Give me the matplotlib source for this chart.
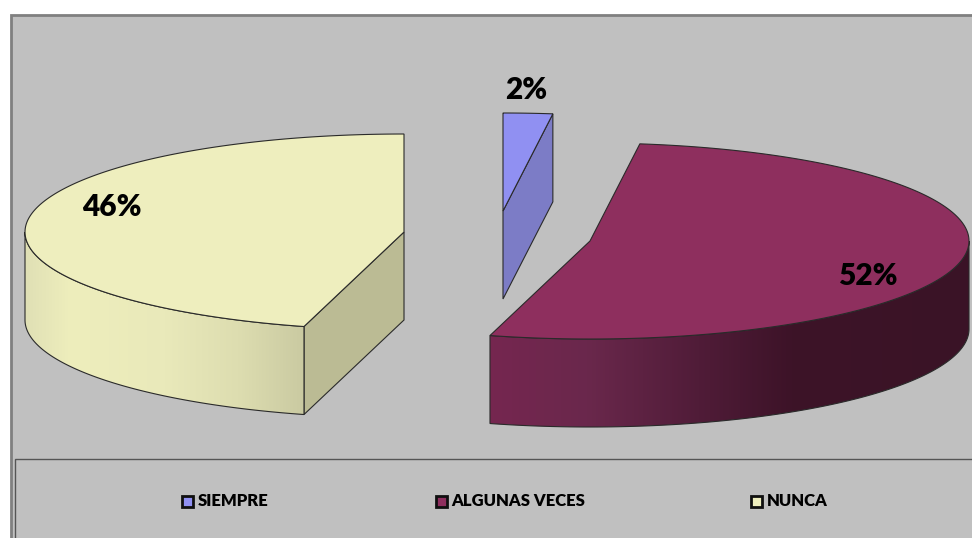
"""3D style exploded pie drawn with plain matplotlib patches."""

import matplotlib

matplotlib.use("Agg")
import matplotlib.pyplot as plt
import numpy as np
from matplotlib.colors import LinearSegmentedColormap
from matplotlib.patches import Polygon, Rectangle

plt.rcParams["font.family"] = ["Lato", "DejaVu Sans"]

categories = ["SIEMPRE", "ALGUNAS VECES", "NUNCA"]
percent_labels = ["2%", "52%", "46%"]
# unrounded shares, estimated from the slice edges
shares = [2.1, 52.15, 45.75]

# pie geometry in pixels
RX, RY = 379, 98
DEPTH = 88
CENTERS = [(503, 211), (590, 241), (404, 232)]
TOP_COLORS = ["#9090F2", "#8E2F5E", "#EEEEBE"]
FACE_COLORS = ["#7C7CC6", "#3A1426", "#BBBB94"]
# outer wall shading: (pixel x, colour)
WALL_SHADES = [
    None,
    [(491, "#762650"), (590, "#6A284C"), (700, "#501C38"), (790, "#3D1328"), (967, "#3A1426")],
    [(25, "#DEDEB4"), (75, "#EEEEBC"), (165, "#E9E9BA"), (235, "#DDDDB0"), (304, "#C8C8A0")],
]
LABEL_POS = [(526, 90), (868, 276), (112, 207)]
LEGEND_MARK_X = [187.5, 441, 756]
LEGEND_Y = 501
EDGE = "#2A2A2A"


def ellipse_points(center, a0, a1, n=200):
    # angles clockwise from 12 o'clock, y axis pointing down
    ang = np.radians(np.linspace(a0, a1, n))
    return np.column_stack([center[0] + RX * np.sin(ang), center[1] - RY * np.cos(ang)])


def draw_wall(ax, center, a0, a1, shades):
    top = ellipse_points(center, a0, a1)
    pts = np.vstack([top, (top + [0, DEPTH])[::-1]])
    patch = Polygon(pts, closed=True, facecolor="none", edgecolor=EDGE, linewidth=0.8, zorder=3)
    ax.add_patch(patch)
    x0, x1 = shades[0][0], shades[-1][0]
    stops = [((x - x0) / (x1 - x0), c) for x, c in shades]
    cmap = LinearSegmentedColormap.from_list("wall", stops)
    grad = np.linspace(0, 1, 512)[None, :]
    im = ax.imshow(grad, cmap=cmap, extent=(x0 - 6, x1 + 6, 538, 0), aspect="auto", zorder=2)
    im.set_clip_path(patch)


def draw_slice(ax, i, a0, a1):
    cx, cy = CENTERS[i]
    # straight cut faces, only the ones turned towards the viewer
    for ang, visible in ((a0, np.sin(np.radians(a0)) < -1e-9), (a1, np.sin(np.radians(a1)) > 1e-9)):
        if visible:
            px, py = ellipse_points(CENTERS[i], ang, ang, 1)[0]
            ax.add_patch(Polygon([(cx, cy), (px, py), (px, py + DEPTH), (cx, cy + DEPTH)],
                                 closed=True, facecolor=FACE_COLORS[i], edgecolor=EDGE,
                                 linewidth=0.8, zorder=2))
    lo, hi = max(a0, 90), min(a1, 270)
    if lo < hi:
        draw_wall(ax, CENTERS[i], lo, hi, WALL_SHADES[i])
    arc = ellipse_points(CENTERS[i], a0, a1)
    ax.add_patch(Polygon(np.vstack([[(cx, cy)], arc]), closed=True, facecolor=TOP_COLORS[i],
                         edgecolor=EDGE, linewidth=0.8, zorder=4))


fig = plt.figure(figsize=(9.72, 5.38), dpi=100, facecolor="white")
ax = fig.add_axes([0, 0, 1, 1])
ax.set_axis_off()

# chart frame and legend box
ax.add_patch(Rectangle((11, 14.5), 980, 540, facecolor="#C0C0C0", edgecolor="#808080", linewidth=2, zorder=0))
ax.add_patch(Rectangle((15, 458.5), 980, 100, facecolor="#C0C0C0", edgecolor="#555555", linewidth=1, zorder=1))

edges = np.concatenate([[0], np.cumsum(shares)]) / sum(shares) * 360
for i in range(len(shares)):
    draw_slice(ax, i, edges[i], edges[i + 1])
    ax.text(*LABEL_POS[i], percent_labels[i], fontsize=21.5, fontweight="heavy", color="black",
            ha="center", va="center", zorder=5)

for i, name in enumerate(categories):
    ax.add_patch(Rectangle((LEGEND_MARK_X[i] - 5.5, LEGEND_Y - 5.5), 11, 11, facecolor=TOP_COLORS[i],
                           edgecolor="#101010", linewidth=2, zorder=5))
    ax.text(LEGEND_MARK_X[i] + 10.5, LEGEND_Y, name, fontsize=12, fontweight="heavy", color="black",
            ha="left", va="center", zorder=5)

ax.set_xlim(0, 972)
ax.set_ylim(538, 0)
fig.savefig("out.png", dpi=100)
plt.close(fig)
